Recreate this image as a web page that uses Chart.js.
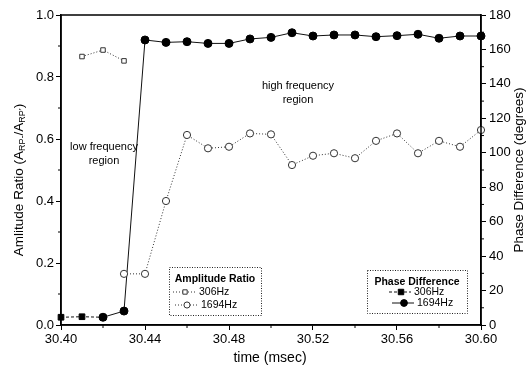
<!DOCTYPE html>
<html><head><meta charset="utf-8">
<script src="https://cdn.jsdelivr.net/npm/chart.js@4/dist/chart.umd.min.js"></script>
<style>html,body{margin:0;padding:0;background:#fff}#wrap{width:531px;height:374px;position:relative}</style>
</head><body><div id="wrap"><canvas id="c" width="531" height="374"></canvas></div>
<script>
// ---- data ----
const xTicks = [30.40, 30.44, 30.48, 30.52, 30.56, 30.60];
const xMinor = [30.42, 30.46, 30.50, 30.54, 30.58];
const ampTicks = [0, 0.2, 0.4, 0.6, 0.8, 1.0];
const ampMinor = [0.1, 0.3, 0.5, 0.7, 0.9];
const phaseTicks = [0, 20, 40, 60, 80, 100, 120, 140, 160, 180];
const phaseMinor = [10, 30, 50, 70, 90, 110, 130, 150, 170];

const amp306Time = [30.41, 30.42, 30.43];
const amp306 = [0.866, 0.887, 0.852];
const amp1694Time = [30.43, 30.44, 30.45, 30.46, 30.47, 30.48, 30.49, 30.50, 30.51, 30.52, 30.53, 30.54, 30.55, 30.56, 30.57, 30.58, 30.59, 30.60];
const amp1694 = [0.165, 0.165, 0.40, 0.613, 0.570, 0.575, 0.618, 0.615, 0.516, 0.546, 0.554, 0.538, 0.594, 0.618, 0.554, 0.594, 0.575, 0.629];
const phase306Time = [30.40, 30.41, 30.42];
const phase306 = [4.5, 4.8, 4.5];
const phase1694Time = [30.42, 30.43, 30.44, 30.45, 30.46, 30.47, 30.48, 30.49, 30.50, 30.51, 30.52, 30.53, 30.54, 30.55, 30.56, 30.57, 30.58, 30.59, 30.60];
const phase1694 = [4.5, 8.1, 165.5, 164.1, 164.5, 163.5, 163.5, 166.1, 167.0, 169.7, 167.8, 168.4, 168.4, 167.4, 168.0, 168.8, 166.5, 167.8, 167.8];

const pts = (t, v) => t.map((x, i) => ({x: x, y: v[i]}));
const FONT = "'Liberation Sans', Arial, sans-serif";

const datasets = [
  {label: '306Hz', group: 'amp', data: pts(amp306Time, amp306), yAxisID: 'y',
   borderColor: '#333', borderWidth: 1, borderDash: [1, 2], pointStyle: 'rect', pointRadius: 3.2,
   pointBackgroundColor: '#fff', pointBorderColor: '#333', pointBorderWidth: 1},
  {label: '1694Hz', group: 'amp', data: pts(amp1694Time, amp1694), yAxisID: 'y',
   borderColor: '#333', borderWidth: 1, borderDash: [1, 2], pointStyle: 'circle', pointRadius: 3.6,
   pointBackgroundColor: '#fff', pointBorderColor: '#333', pointBorderWidth: 1},
  {label: '306Hz', group: 'phase', data: pts(phase306Time, phase306), yAxisID: 'y2',
   borderColor: '#111', borderWidth: 1, borderDash: [3, 2], pointStyle: 'rect', pointRadius: 4,
   pointBackgroundColor: '#000', pointBorderColor: '#000', pointBorderWidth: 1},
  {label: '1694Hz', group: 'phase', data: pts(phase1694Time, phase1694), yAxisID: 'y2',
   borderColor: '#111', borderWidth: 1, pointStyle: 'circle', pointRadius: 4,
   pointBackgroundColor: '#000', pointBorderColor: '#000', pointBorderWidth: 1}
];
datasets.forEach(d => { d.tension = 0; d.fill = false; d.clip = false; });

function drawMarker(ctx, style, x, y, r, fill, stroke) {
  ctx.save();
  ctx.setLineDash([]);
  ctx.fillStyle = fill; ctx.strokeStyle = stroke; ctx.lineWidth = 1;
  ctx.beginPath();
  if (style === 'rect') { ctx.rect(x - r * 0.8, y - r * 0.8, r * 1.6, r * 1.6); }
  else { ctx.arc(x, y, r, 0, Math.PI * 2); }
  ctx.fill(); ctx.stroke();
  ctx.restore();
}

const deco = {
  id: 'deco',
  afterDraw(chart) {
    const ctx = chart.ctx, a = chart.chartArea;
    const sx = chart.scales.x, sy = chart.scales.y, sy2 = chart.scales.y2;
    ctx.save();
    // frame
    ctx.strokeStyle = '#000'; ctx.lineWidth = 1.5; ctx.setLineDash([]);
    ctx.strokeRect(a.left, a.top, a.right - a.left, a.bottom - a.top);
    // minor ticks
    ctx.lineWidth = 1;
    ctx.beginPath();
    xMinor.forEach(v => { const p = sx.getPixelForValue(v); ctx.moveTo(p, a.bottom); ctx.lineTo(p, a.bottom + 3); });
    ampMinor.forEach(v => { const p = sy.getPixelForValue(v); ctx.moveTo(a.left, p); ctx.lineTo(a.left - 3, p); });
    phaseMinor.forEach(v => { const p = sy2.getPixelForValue(v); ctx.moveTo(a.right, p); ctx.lineTo(a.right + 3, p); });
    ctx.stroke();

    ctx.fillStyle = '#000';
    // x title
    ctx.font = '14px ' + FONT; ctx.textAlign = 'center'; ctx.textBaseline = 'middle';
    ctx.fillText('time (msec)', 270, 358);
    // right title
    ctx.save(); ctx.translate(519, 170); ctx.rotate(-Math.PI / 2);
    ctx.font = '13.5px ' + FONT; ctx.fillText('Phase Difference (degrees)', 0, 0);
    ctx.restore();
    // left title with subscripts
    ctx.save(); ctx.translate(19, 180); ctx.rotate(-Math.PI / 2);
    const parts = [['Amlitude Ratio (A', 0], ['RP-', 1], ['/A', 0], ['RP\u2019', 1], [')', 0]];
    const fMain = '13.5px ' + FONT, fSub = '9px ' + FONT;
    let tw = 0;
    parts.forEach(p => { ctx.font = p[1] ? fSub : fMain; tw += ctx.measureText(p[0]).width; });
    let cx = -tw / 2; ctx.textAlign = 'left';
    parts.forEach(p => {
      ctx.font = p[1] ? fSub : fMain;
      ctx.fillText(p[0], cx, p[1] ? 4 : 0);
      cx += ctx.measureText(p[0]).width;
    });
    ctx.restore();

    // region annotations
    ctx.font = '11px ' + FONT; ctx.textAlign = 'center';
    ctx.fillText('low frequency', 104, 147);
    ctx.fillText('region', 104, 161);
    ctx.fillText('high frequency', 298, 86);
    ctx.fillText('region', 298, 100);

    // legends
    function legendBox(x0, y0, x1, y1, title, group, items) {
      ctx.save();
      ctx.fillStyle = '#fff'; ctx.fillRect(x0, y0, x1 - x0, y1 - y0);
      ctx.strokeStyle = '#222'; ctx.lineWidth = 1; ctx.setLineDash([1, 1.5]);
      ctx.strokeRect(x0 + 0.5, y0 + 0.5, x1 - x0, y1 - y0);
      ctx.fillStyle = '#000'; ctx.font = 'bold 10.5px ' + FONT; ctx.textAlign = 'center'; ctx.textBaseline = 'middle';
      ctx.fillText(title, (x0 + x1) / 2, y0 + 12);
      const ds = chart.data.datasets.filter(d => d.group === group);
      ds.forEach((d, i) => {
        const it = items[i];
        ctx.strokeStyle = d.borderColor; ctx.lineWidth = 1; ctx.setLineDash(d.borderDash || []);
        ctx.beginPath(); ctx.moveTo(it.mx - 12, it.y); ctx.lineTo(it.tx - 3, it.y); ctx.stroke();
        drawMarker(ctx, d.pointStyle, it.mx, it.y, d.pointRadius * 0.85, d.pointBackgroundColor, d.pointBorderColor);
        ctx.fillStyle = '#000'; ctx.font = '10.5px ' + FONT; ctx.textAlign = 'left';
        ctx.fillText(d.label, it.tx, it.y + 0.5);
      });
      ctx.restore();
    }
    legendBox(169, 267, 261, 315, 'Amplitude Ratio', 'amp', [{mx: 185, tx: 199, y: 292}, {mx: 187, tx: 201, y: 305}]);
    legendBox(367, 270, 467, 313, 'Phase Difference', 'phase', [{mx: 401, tx: 414, y: 292}, {mx: 404, tx: 417, y: 303}]);
    ctx.restore();
  }
};

const tickFont = {size: 13, family: FONT};
new Chart(document.getElementById('c'), {
  type: 'line',
  data: {datasets: datasets},
  options: {
    responsive: false, animation: false, devicePixelRatio: 1,
    layout: {padding: {top: 15, left: 0, right: 0, bottom: 0}},
    plugins: {legend: {display: false}, tooltip: {enabled: false}},
    scales: {
      x: {type: 'linear', min: 30.40, max: 30.60,
        afterBuildTicks: s => { s.ticks = xTicks.map(v => ({value: v})); },
        ticks: {callback: v => Number(v).toFixed(2), color: '#000', font: tickFont, maxRotation: 0, autoSkip: false, padding: 2},
        grid: {drawOnChartArea: false, tickLength: 5, color: '#000', tickWidth: 1},
        border: {color: '#000', width: 1.5},
        afterFit: s => { s.height = 49; }},
      y: {type: 'linear', position: 'left', min: 0, max: 1.0,
        afterBuildTicks: s => { s.ticks = ampTicks.map(v => ({value: v})); },
        ticks: {callback: v => Number(v).toFixed(1), color: '#000', font: tickFont, padding: 2},
        grid: {drawOnChartArea: false, tickLength: 5, color: '#000', tickWidth: 1},
        border: {color: '#000', width: 1.5},
        afterFit: s => { s.width = 61; }},
      y2: {type: 'linear', position: 'right', min: 0, max: 180,
        afterBuildTicks: s => { s.ticks = phaseTicks.map(v => ({value: v})); },
        ticks: {callback: v => String(v), color: '#000', font: tickFont, padding: 3},
        grid: {drawOnChartArea: false, tickLength: 5, color: '#000', tickWidth: 1},
        border: {color: '#000', width: 1.5},
        afterFit: s => { s.width = 50; }}
    }
  },
  plugins: [deco]
});
</script></body></html>
